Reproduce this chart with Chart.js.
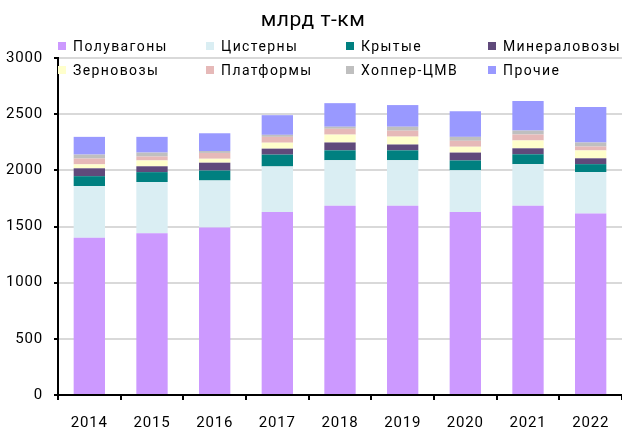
<!DOCTYPE html>
<html>
<head>
<meta charset="utf-8">
<script src="https://cdn.jsdelivr.net/npm/chart.js@4"></script>
<style>
  body { margin: 0; background: #fff; }
  #wrap { position: relative; width: 622px; height: 430px; font-family: Roboto, sans-serif; color: #000; }
  #myChart { position: absolute; left: 0; top: 0; }
  #title { position: absolute; left: 0; width: 626px; top: 7px; text-align: center; font-size: 21px; letter-spacing: 0.5px; }
  .leg { position: absolute; font-size: 14px; letter-spacing: 1.4px; line-height: 16px; white-space: nowrap; }
  .leg span { display: inline-block; width: 8px; height: 8px; margin-right: 7px; vertical-align: 1px; }
</style>
</head>
<body>
<div id="wrap">
  <canvas id="myChart" width="622" height="430"></canvas>
  <div id="title">млрд т-км</div>
  <div id="legend"></div>
</div>
<script>
const years = ['2014', '2015', '2016', '2017', '2018', '2019', '2020', '2021', '2022'];

const poluvagony = [1400, 1440, 1490, 1630, 1685, 1685, 1630, 1685, 1615];
const cisterny = [460, 456, 420, 405, 405, 405, 370, 370, 370];
const krytye = [88, 88, 88, 105, 88, 88, 88, 88, 70];
const mineralovozy = [70, 52, 70, 53, 70, 52, 70, 53, 52];
const zernovozy = [35, 52, 35, 53, 70, 70, 52, 70, 70];
const platformy = [52, 35, 52, 52, 52, 53, 53, 53, 35];
const hopper = [35, 35, 17, 18, 18, 35, 35, 35, 36];
const prochie = [158, 140, 158, 175, 210, 193, 228, 263, 315];

const series = [
  { label: 'Полувагоны', data: poluvagony, color: '#cc99ff' },
  { label: 'Цистерны', data: cisterny, color: '#daeef3' },
  { label: 'Крытые', data: krytye, color: '#008080' },
  { label: 'Минераловозы', data: mineralovozy, color: '#604a7b' },
  { label: 'Зерновозы', data: zernovozy, color: '#ffffcc' },
  { label: 'Платформы', data: platformy, color: '#e6b9b8' },
  { label: 'Хоппер-ЦМВ', data: hopper, color: '#bfbfbf' },
  { label: 'Прочие', data: prochie, color: '#9999ff' },
];

// legend: 4 columns x 2 rows
const legCols = [58, 206, 346, 488];
const legRows = [38, 62];
const legend = document.getElementById('legend');
series.forEach((s, i) => {
  const d = document.createElement('div');
  d.className = 'leg';
  d.style.left = legCols[i % 4] + 'px';
  d.style.top = legRows[Math.floor(i / 4)] + 'px';
  d.innerHTML = '<span style="background:' + s.color + '"></span>' + s.label;
  legend.appendChild(d);
});

const spacing = {
  id: 'spacing',
  beforeDraw(chart) {
    chart.ctx.letterSpacing = '0.8px';
  },
};

const ctx = document.getElementById('myChart');

new Chart(ctx, {
  type: 'bar',
  data: {
    labels: years,
    datasets: series.map((s) => ({
      label: s.label,
      data: s.data,
      backgroundColor: s.color,
      borderWidth: 0,
      categoryPercentage: 1,
      barPercentage: 0.5,
    })),
  },
  options: {
    responsive: false,
    animation: false,
    layout: { padding: { top: 58, right: 0, left: 0, bottom: 0 } },
    plugins: {
      legend: { display: false },
      title: { display: false },
      tooltip: { enabled: false },
    },
    scales: {
      x: {
        stacked: true,
        afterFit: (scale) => { scale.height = 35; },
        border: { color: '#000', width: 2 },
        grid: { drawOnChartArea: false, color: '#000', lineWidth: 2, tickLength: 5 },
        ticks: { color: '#000', font: { family: 'Roboto', size: 15 }, padding: 14 },
      },
      y: {
        stacked: true,
        min: 0,
        max: 3000,
        afterFit: (scale) => { scale.width = 58; },
        border: { color: '#000', width: 2 },
        grid: { color: '#d9d9d9', lineWidth: 2, tickColor: '#000', tickLength: 4 },
        ticks: {
          stepSize: 500,
          color: '#000',
          font: { family: 'Roboto', size: 15 },
          padding: 11,
          callback: (v) => String(v),
        },
      },
    },
  },
  plugins: [spacing],
});
</script>
</body>
</html>
